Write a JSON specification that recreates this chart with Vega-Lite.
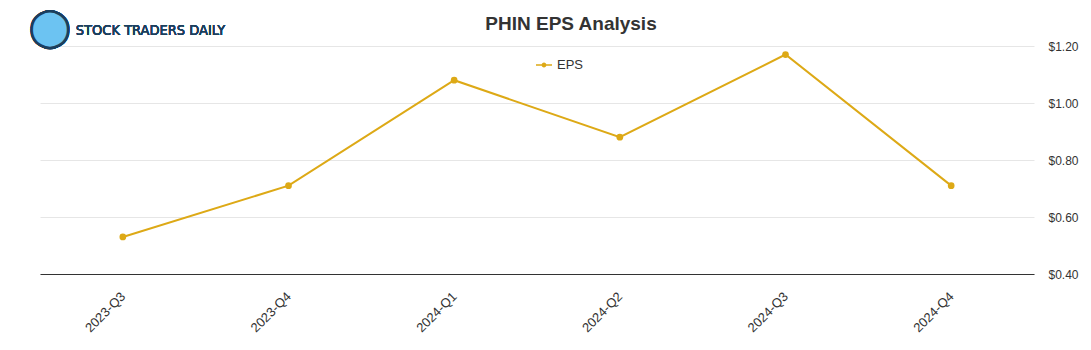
{
  "$schema": "https://vega.github.io/schema/vega-lite/v6.json",
  "width": 994,
  "height": 228,
  "autosize": "none",
  "padding": {"left": 40, "top": 46, "right": 57, "bottom": 76},
  "background": "white",
  "config": {
    "font": "Liberation Sans",
    "view": {"stroke": null}
  },
  "title": {
    "text": "PHIN EPS Analysis",
    "anchor": "middle",
    "dx": 34,
    "dy": 38,
    "offset": 14,
    "fontSize": 19,
    "fontWeight": "bold",
    "color": "#333333",
    "font": "Liberation Sans"
  },
  "data": {
    "values": [
      {"quarter": "2023-Q3", "eps": 0.53, "series": "EPS"},
      {"quarter": "2023-Q4", "eps": 0.71, "series": "EPS"},
      {"quarter": "2024-Q1", "eps": 1.08, "series": "EPS"},
      {"quarter": "2024-Q2", "eps": 0.88, "series": "EPS"},
      {"quarter": "2024-Q3", "eps": 1.17, "series": "EPS"},
      {"quarter": "2024-Q4", "eps": 0.71, "series": "EPS"}
    ]
  },
  "encoding": {
    "x": {
      "field": "quarter",
      "type": "ordinal",
      "scale": {"type": "point", "padding": 0.5},
      "axis": {
        "title": null,
        "labelAngle": -45,
        "labelAlign": "right",
        "labelBaseline": "middle",
        "labelPadding": 20,
        "labelFontSize": 13,
        "labelColor": "#333333",
        "ticks": false,
        "domainColor": "#333333",
        "domainWidth": 1,
        "grid": false
      }
    },
    "y": {
      "field": "eps",
      "type": "quantitative",
      "scale": {"domain": [0.4, 1.2], "nice": false, "zero": false},
      "axis": {
        "orient": "right",
        "title": null,
        "values": [0.4, 0.6, 0.8, 1.0, 1.2],
        "format": "$.2f",
        "labelFontSize": 12,
        "labelColor": "#333333",
        "labelPadding": 14,
        "ticks": false,
        "domain": false,
        "grid": true,
        "gridColor": "#e6e6e6"
      }
    },
    "color": {
      "field": "series",
      "type": "nominal",
      "scale": {"range": ["#DDA916"]},
      "legend": {
        "title": null,
        "orient": "none",
        "legendX": 496,
        "legendY": 11,
        "symbolType": "M-1,-0.08H1V0.08H-1Z M0.3,0A0.3,0.3 0 1,1 -0.3,0A0.3,0.3 0 1,1 0.3,0Z",
        "symbolFillColor": "#DDA916",
        "symbolStrokeWidth": 0,
        "symbolSize": 256,
        "labelFontSize": 13,
        "labelColor": "#333333",
        "labelOffset": 5
      }
    }
  },
  "layer": [
    {"mark": {"type": "line", "strokeWidth": 2}},
    {"mark": {"type": "point", "filled": true, "size": 45, "opacity": 1}},
    {
      "mark": {"type": "text", "align": "center", "baseline": "middle", "fontSize": 36, "font": "DejaVu Sans", "dx": -73, "dy": -1, "clip": false, "stroke": "#1b3f5e", "strokeWidth": 2.5},
      "encoding": {
        "x": {"datum": "2023-Q3"},
        "y": {"datum": 1.26},
        "text": {"value": "⬤"},
        "color": {"value": "#6cc3f2"}
      }
    },
    {
      "mark": {"type": "text", "align": "left", "baseline": "middle", "fontSize": 14.5, "font": "DejaVu Sans Condensed", "dx": -47, "dy": 0, "clip": false},
      "encoding": {
        "x": {"datum": "2023-Q3"},
        "y": {"datum": 1.253},
        "text": {"value": "STOCK TRADERS DAILY"},
        "color": {"value": "#1b3f5e"}
      }
    }
  ]
}
